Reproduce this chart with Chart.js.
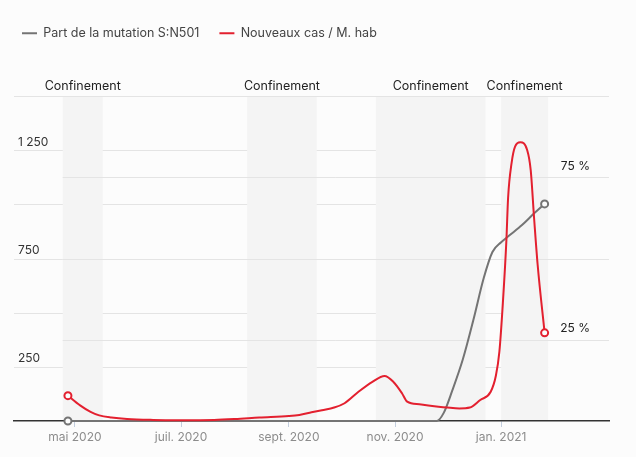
<!DOCTYPE html>
<html><head><meta charset="utf-8">
<script src="https://cdn.jsdelivr.net/npm/chart.js@4.4.1/dist/chart.umd.min.js"></script>
<style>html,body{margin:0;padding:0;background:#fcfcfc;}#wrap{width:636px;height:457px;}canvas{display:block;}</style>
</head><body><div id="wrap"><canvas id="c" width="636" height="457"></canvas></div>
<script>
// ---- data ----
const seriesNames = ['Part de la mutation S:N501', 'Nouveaux cas / M. hab'];
const grayDates = ['2020-04-27','2020-11-25','2020-11-29','2020-12-04','2020-12-10','2020-12-16','2020-12-22','2020-12-27','2021-01-01','2021-01-06','2021-01-13','2021-01-20','2021-01-26'];
const grayValues = [0, 0, 2.5, 9.5, 19, 31, 44, 52, 55, 57.2, 60.3, 63.9, 66.8];
const redDates = ['2020-04-27','2020-05-04','2020-05-10','2020-05-15','2020-05-22','2020-05-31','2020-06-15','2020-07-01','2020-07-20','2020-08-01','2020-08-15','2020-09-01','2020-09-07','2020-09-14','2020-09-20','2020-09-27','2020-10-03','2020-10-11','2020-10-19','2020-10-26','2020-10-31','2020-11-05','2020-11-08','2020-11-15','2020-11-26','2020-12-01','2020-12-08','2020-12-14','2020-12-20','2020-12-26','2020-12-29','2020-12-31','2021-01-02','2021-01-04','2021-01-05','2021-01-07','2021-01-09','2021-01-12','2021-01-16','2021-01-18','2021-01-20','2021-01-22','2021-01-26'];
const redValues = [117, 72, 42, 26, 16, 9, 5, 4, 5, 9, 16, 23, 28, 40, 50, 62, 82, 135, 181, 208, 181, 128, 89, 77, 66, 62, 58, 62, 97, 135, 210, 320, 545, 830, 1030, 1190, 1266, 1286, 1250, 1158, 930, 720, 407];
const monthTicks = ['2020-05-01','2020-07-01','2020-09-01','2020-11-01','2021-01-01'];
const monthLabels = ['mai 2020','juil. 2020','sept. 2020','nov. 2020','jan. 2021'];
const lockStarts = ['2020-04-24','2020-08-08','2020-10-21','2021-01-01'];
const lockEnds = ['2020-05-17','2020-09-17','2020-12-23','2021-01-28'];
const lockLabel = 'Confinement';
const casesLabelled = [250, 750, 1250];
const shareLabelled = [25, 75];
const axisStart = '2020-03-27', axisEnd = '2021-03-04';

// ---- helpers ----
function dayNum(s){ const [y,m,d] = s.split('-').map(Number); return (Date.UTC(y,m-1,d) - Date.UTC(2020,0,1)) / 86400000; }
function fmtCases(v){ return v >= 1000 ? Math.floor(v/1000) + ' ' + String(v%1000).padStart(3,'0') : String(v); }
const RED = '#e3202f', GRAY = '#747474';
const FONT = 'Inter';

const decor = {
  id: 'decor',
  beforeInit(chart){
    const lg = chart.legend;
    if (lg) { const orig = lg.fit; lg.fit = function(){ orig.call(this); this.height = 89; }; }
  },
  beforeDraw(chart){
    const {ctx, chartArea: a, scales: {x, y, y1}} = chart;
    ctx.save();
    const lastEnd = x.getPixelForValue(dayNum(lockEnds[lockEnds.length-1]));
    const firstStart = x.getPixelForValue(dayNum(lockStarts[0]));
    ctx.lineWidth = 1; ctx.strokeStyle = '#e4e4e4';
    for (let v = 250; v <= 1500; v += 250) {
      const py = Math.round(y.getPixelForValue(v)) + 0.5;
      ctx.beginPath(); ctx.moveTo(a.left, py); ctx.lineTo(lastEnd, py); ctx.stroke();
    }
    ctx.fillStyle = '#f4f4f4';
    for (let i = 0; i < lockStarts.length; i++) {
      const x0 = x.getPixelForValue(dayNum(lockStarts[i])), x1 = x.getPixelForValue(dayNum(lockEnds[i]));
      ctx.fillRect(x0, a.top + 1, x1 - x0, a.bottom - a.top - 1);
    }
    for (let v = 25; v <= 100; v += 25) {
      const py = Math.round(y1.getPixelForValue(v)) + 0.5;
      ctx.beginPath(); ctx.moveTo(firstStart, py); ctx.lineTo(a.right, py); ctx.stroke();
    }
    ctx.fillStyle = '#222'; ctx.font = '12.5px ' + FONT; ctx.textAlign = 'center'; ctx.textBaseline = 'middle';
    for (let i = 0; i < lockStarts.length; i++) {
      const x0 = x.getPixelForValue(dayNum(lockStarts[i])), x1 = x.getPixelForValue(dayNum(lockEnds[i]));
      ctx.fillText(lockLabel, (x0 + x1) / 2, a.top - 10);
    }
    ctx.restore();
  }
};

const endPoint = (c) => (c.dataIndex === 0 || c.dataIndex === c.dataset.data.length - 1) ? 3.5 : 0;

new Chart(document.getElementById('c'), {
  type: 'line',
  data: {
    datasets: [
      { label: seriesNames[0], data: grayDates.map((d,i) => ({x: dayNum(d), y: grayValues[i]})), yAxisID: 'y1',
        borderColor: GRAY, backgroundColor: GRAY, borderWidth: 2, cubicInterpolationMode: 'monotone',
        pointRadius: endPoint, pointBackgroundColor: '#fcfcfc', pointBorderColor: GRAY, pointBorderWidth: 2, clip: false, order: 2 },
      { label: seriesNames[1], data: redDates.map((d,i) => ({x: dayNum(d), y: redValues[i]})), yAxisID: 'y',
        borderColor: RED, backgroundColor: RED, borderWidth: 2, cubicInterpolationMode: 'monotone',
        pointRadius: endPoint, pointBackgroundColor: '#fcfcfc', pointBorderColor: RED, pointBorderWidth: 2, clip: false, order: 1 }
    ]
  },
  options: {
    responsive: false, animation: false, devicePixelRatio: 1, events: [],
    layout: { padding: { left: 2, right: 8, top: 7, bottom: 0 } },
    plugins: {
      tooltip: { enabled: false },
      legend: { position: 'top', align: 'start',
        labels: { usePointStyle: true, pointStyle: 'line', pointStyleWidth: 15, padding: 20, color: '#444',
          font: { family: FONT, size: 12.5 }, sort: (a, b) => a.datasetIndex - b.datasetIndex } }
    },
    scales: {
      x: { type: 'linear', min: dayNum(axisStart), max: dayNum(axisEnd),
        afterBuildTicks: (s) => { s.ticks = monthTicks.map(d => ({ value: dayNum(d) })); },
        afterFit: (s) => { s.height = 36; },
        ticks: { callback: (v, i) => monthLabels[i], color: '#8c8c8c', font: { family: FONT, size: 12 }, padding: 3, maxRotation: 0, autoSkip: false },
        grid: { drawOnChartArea: false, drawTicks: true, tickLength: 6, color: '#c3cede' },
        border: { display: true, color: '#333', width: 1.5 } },
      y: { position: 'left', min: 0, max: 1500,
        afterFit: (s) => { s.width = 12; },
        ticks: { stepSize: 250, mirror: true, padding: 4, labelOffset: -8, color: '#333', font: { family: FONT, size: 12 },
          callback: (v) => casesLabelled.includes(v) ? fmtCases(v) : '' },
        grid: { display: false, drawTicks: false }, border: { display: false } },
      y1: { position: 'right', min: 0, max: 100,
        afterFit: (s) => { s.width = 19; },
        ticks: { stepSize: 25, mirror: true, padding: -19, labelOffset: -11, color: '#222', font: { family: FONT, size: 12 },
          callback: (v) => shareLabelled.includes(v) ? v + ' %' : '' },
        grid: { display: false, drawTicks: false }, border: { display: false } }
    }
  },
  plugins: [decor]
});
</script></body></html>
